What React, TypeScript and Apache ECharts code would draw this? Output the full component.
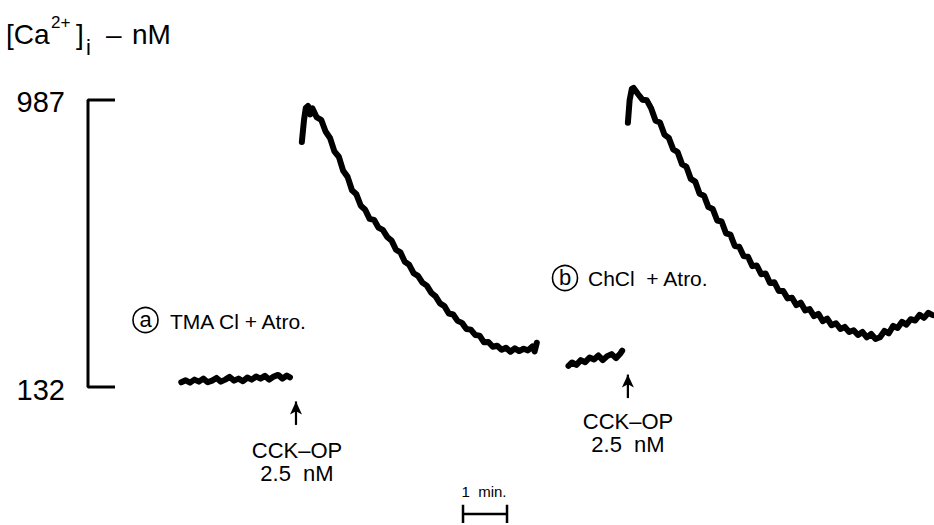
import React, { useEffect, useRef } from "react";
import * as echarts from "echarts";

// time in minutes (44 px per minute), [Ca2+]i in nM
const yScaleTicks = [132, 987];
const yScaleBarTime = 2.0;
const yScaleTickEnd = 2.614;

const traceABaseline: [number, number][] = [
  [4.12, 146], [4.22, 152], [4.32, 145], [4.42, 154], [4.52, 148], [4.62, 157], [4.72, 146],
  [4.82, 151], [4.92, 159], [5.02, 148], [5.12, 154], [5.22, 162], [5.32, 151], [5.42, 157],
  [5.52, 149], [5.62, 160], [5.72, 154], [5.82, 163], [5.92, 157], [6.02, 165], [6.12, 154],
  [6.22, 163], [6.32, 168], [6.42, 157], [6.52, 166], [6.59, 161],
];

const traceAResponse: [number, number][] = [
  [6.86, 862], [6.91, 928], [6.95, 963], [7.0, 969], [7.05, 944], [7.1, 962], [7.2, 935],
  [7.3, 928], [7.4, 893], [7.5, 874], [7.6, 834], [7.7, 818], [7.8, 776], [7.9, 758],
  [8.0, 718], [8.1, 706], [8.2, 672], [8.3, 660], [8.4, 633], [8.5, 630], [8.6, 607],
  [8.7, 600], [8.8, 579], [8.9, 568], [9.0, 541], [9.1, 533], [9.2, 505], [9.3, 496],
  [9.4, 471], [9.5, 463], [9.6, 443], [9.7, 434], [9.8, 413], [9.9, 402], [10.0, 381],
  [10.1, 373], [10.2, 351], [10.3, 348], [10.4, 329], [10.5, 323], [10.6, 305], [10.7, 303],
  [10.8, 287], [10.9, 285], [11.0, 265], [11.1, 266], [11.2, 252], [11.3, 255], [11.4, 243],
  [11.5, 249], [11.6, 237], [11.7, 247], [11.8, 239], [11.9, 246], [12.0, 241], [12.1, 253],
  [12.15, 238], [12.2, 264],
];

const traceBBaseline: [number, number][] = [
  [12.92, 195], [13.0, 205], [13.1, 198], [13.2, 212], [13.3, 206], [13.4, 220], [13.5, 214],
  [13.6, 226], [13.7, 212], [13.8, 224], [13.9, 230], [14.0, 218], [14.1, 232], [14.14, 240],
];

const traceBResponse: [number, number][] = [
  [14.27, 919], [14.31, 987], [14.36, 1020], [14.4, 1023], [14.5, 1005], [14.6, 988],
  [14.7, 986], [14.8, 962], [14.9, 925], [15.0, 920], [15.1, 884], [15.2, 874], [15.3, 840],
  [15.4, 832], [15.5, 796], [15.6, 788], [15.7, 752], [15.8, 744], [15.9, 708], [16.0, 702],
  [16.1, 668], [16.2, 662], [16.3, 628], [16.4, 625], [16.5, 590], [16.6, 586], [16.7, 552],
  [16.8, 550], [16.9, 522], [17.0, 520], [17.1, 492], [17.2, 494], [17.3, 468], [17.4, 470],
  [17.5, 442], [17.6, 444], [17.7, 418], [17.8, 418], [17.9, 396], [18.0, 398], [18.1, 376],
  [18.2, 383], [18.3, 360], [18.4, 364], [18.5, 343], [18.6, 350], [18.7, 328], [18.8, 336],
  [18.9, 316], [19.0, 322], [19.1, 305], [19.2, 311], [19.3, 296], [19.4, 301], [19.5, 287],
  [19.6, 296], [19.7, 280], [19.8, 290], [19.9, 275], [20.0, 280], [20.1, 299], [20.2, 292],
  [20.3, 314], [20.4, 308], [20.5, 326], [20.6, 318], [20.7, 334], [20.8, 330], [20.9, 347],
  [21.0, 338], [21.1, 353], [21.2, 346],
];

// stimulus arrows: [time, bottom nM, arrow-head nM]
const arrowA = [6.727, 19, 89];
const arrowB = [14.27, 99, 169];

// time scale bar (1 min)
const timeBarStart = 10.523;
const timeBarEnd = 11.523;
const timeBarLevel = -246;
const timeBarTickLow = -273;
const timeBarTickHigh = -219;

const FONT = "'Liberation Sans', Arial, Helvetica, sans-serif";

function txt(text: string, x: number, y: number, fontSize: number, align = "left") {
  return {
    type: "text",
    x,
    y,
    silent: true,
    style: { text, fontSize, fontFamily: FONT, fill: "#000", align, verticalAlign: "middle" },
  };
}

function arrowSeries(a: number[]) {
  return {
    type: "line",
    clip: false,
    silent: true,
    showSymbol: true,
    lineStyle: { color: "#000", width: 2.2 },
    itemStyle: { color: "#000" },
    data: [
      { value: [a[0], a[1]], symbol: "none" },
      { value: [a[0], a[2]], symbol: "arrow", symbolSize: [9, 13] },
    ],
  };
}

export default function App() {
  const ref = useRef<HTMLDivElement>(null);
  useEffect(() => {
    const chart = echarts.init(ref.current!, null, { renderer: "svg" });
    const traceStyle = { color: "#000", width: 6, join: "round", cap: "round" };
    const option: any = {
      animation: false,
      backgroundColor: "#fff",
      grid: { left: 0, right: 0, top: 100, bottom: 138 },
      xAxis: { type: "value", min: 0, max: 934 / 44, show: false },
      yAxis: { type: "value", min: yScaleTicks[0], max: yScaleTicks[1], show: false },
      series: [
        {
          type: "line",
          clip: false,
          silent: true,
          symbol: "none",
          lineStyle: { color: "#000", width: 3 },
          data: [
            [yScaleTickEnd, yScaleTicks[1]],
            [yScaleBarTime, yScaleTicks[1]],
            [yScaleBarTime, yScaleTicks[0]],
            [yScaleTickEnd, yScaleTicks[0]],
          ],
        },
        {
          type: "line",
          clip: false,
          silent: true,
          symbol: "none",
          lineStyle: { color: "#000", width: 2.5 },
          data: [
            [timeBarStart, timeBarTickHigh],
            [timeBarStart, timeBarTickLow],
            [timeBarStart, timeBarLevel],
            [timeBarEnd, timeBarLevel],
            [timeBarEnd, timeBarTickHigh],
            [timeBarEnd, timeBarTickLow],
          ],
        },
        arrowSeries(arrowA),
        arrowSeries(arrowB),
        { type: "line", clip: false, silent: true, symbol: "none", lineStyle: traceStyle, data: traceABaseline },
        { type: "line", clip: false, silent: true, symbol: "none", lineStyle: traceStyle, data: traceAResponse },
        { type: "line", clip: false, silent: true, symbol: "none", lineStyle: traceStyle, data: traceBBaseline },
        { type: "line", clip: false, silent: true, symbol: "none", lineStyle: traceStyle, data: traceBResponse },
      ],
      graphic: [
        txt("[Ca", 6, 34, 28),
        txt("2+", 51, 22, 17),
        txt("]", 76, 34, 28),
        txt("i", 86, 47, 22),
        txt("–", 106, 34, 28),
        txt("nM", 132, 34, 28),
        txt(String(yScaleTicks[1]), 65, 102, 29, "right"),
        txt(String(yScaleTicks[0]), 65, 390, 29, "right"),
        { type: "circle", silent: true, shape: { cx: 145.5, cy: 320, r: 12.5 }, style: { fill: "none", stroke: "#000", lineWidth: 1.6 } },
        txt("a", 145.5, 319, 22, "center"),
        txt("TMA Cl + Atro.", 170, 321, 21),
        { type: "circle", silent: true, shape: { cx: 565, cy: 278, r: 12.5 }, style: { fill: "none", stroke: "#000", lineWidth: 1.6 } },
        txt("b", 565, 277, 22, "center"),
        txt("ChCl  + Atro.", 588, 278, 21),
        txt("CCK–OP", 297, 450, 22, "center"),
        txt("2.5  nM", 297, 473, 22, "center"),
        txt("CCK–OP", 628, 421, 22, "center"),
        txt("2.5  nM", 628, 444, 22, "center"),
        txt("1  min.", 484, 491, 15, "center"),
      ],
    };
    chart.setOption(option);
    return () => chart.dispose();
  }, []);
  return (
    <div
      ref={ref}
      style={{ position: "absolute", left: 0, top: 0, width: 934, height: 525, background: "#fff" }}
    />
  );
}
